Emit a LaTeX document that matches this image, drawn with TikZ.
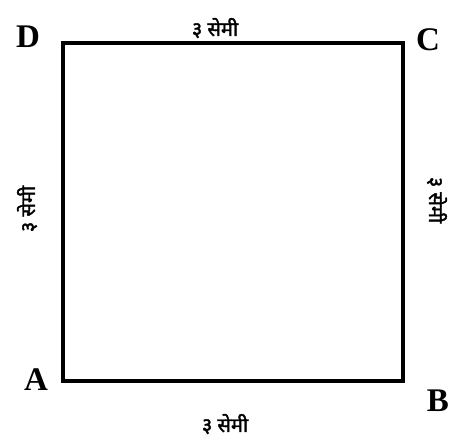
\documentclass[tikz,border=0pt]{standalone}
\usepackage{fontspec}
\setmainfont{Liberation Serif}
\newfontfamily\devfont[Script=Devanagari,FakeBold=2]{Noto Sans}
\tikzset{
  corner/.style={font=\fontsize{33}{35}\selectfont\bfseries, inner sep=0pt},
  side/.style={font=\devfont\fontsize{20}{22}\selectfont, inner sep=0pt},
  edge/.style={line width=3.6pt, line cap=rect}
}
\begin{document}
\begin{tikzpicture}[x=1pt,y=-1pt]
\useasboundingbox (0,0) rectangle (450,443);
\coordinate (d) at (63,43);
\coordinate (c) at (403,43);
\coordinate (b) at (403,381);
\coordinate (a) at (63,381);
\draw[edge] (a) -- (b) -- (c) -- (d) -- cycle;
\node[corner] (lD) at (28,37) {D};
\node[corner] (lC) at (428,40) {C};
\node[corner] (lA) at (36,380) {A};
\node[corner] (lB) at (438,401) {B};
\node[side] (top) at (215,28) {३ सेमी};
\node[side] (bot) at (225,424) {३ सेमी};
\node[side, rotate=90] (left) at (27,209) {३ सेमी};
\node[side, rotate=-90] (right) at (437,200) {३ सेमी};
\end{tikzpicture}
\end{document}
